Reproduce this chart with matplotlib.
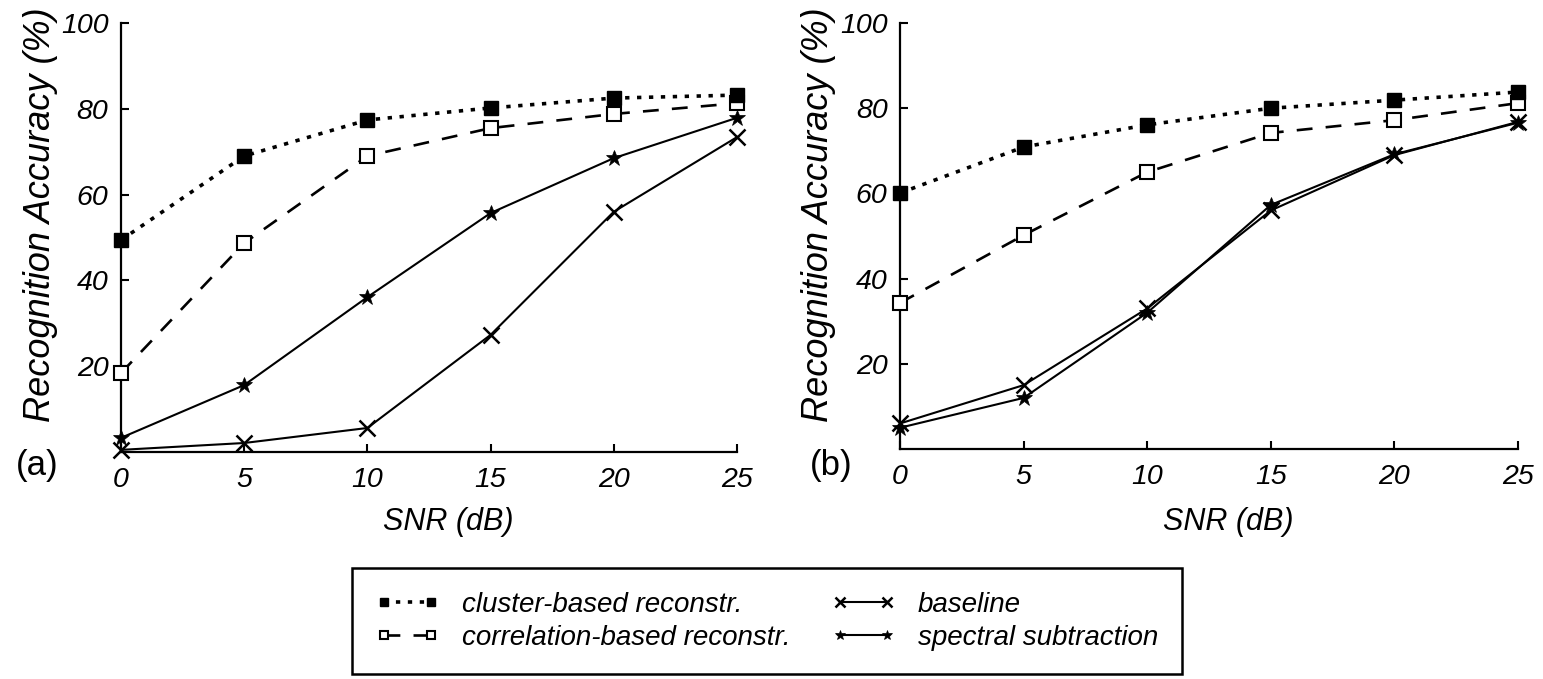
import matplotlib
matplotlib.use("Agg")
import matplotlib.pyplot as plt

plt.rcParams['font.family'] = ['Liberation Sans', 'DejaVu Sans']

snr = [0, 5, 10, 15, 20, 25]

# panel (a)
a_cluster = [49.4, 69.0, 77.4, 80.2, 82.5, 83.2]
a_correlation = [18.4, 48.7, 69.0, 75.5, 78.8, 81.3]
a_baseline = [0.5, 2.1, 5.6, 27.3, 56.0, 73.4]
a_spectral = [3.3, 15.6, 36.1, 55.7, 68.5, 77.9]

# panel (b)
b_cluster = [60.1, 70.9, 76.1, 80.0, 81.9, 83.8]
b_correlation = [34.3, 50.2, 65.0, 74.2, 77.2, 81.2]
b_baseline = [6.0, 15.0, 33.0, 56.0, 69.0, 76.8]
b_spectral = [5.0, 12.0, 32.0, 57.3, 69.2, 76.6]

labels = ['cluster-based reconstr.', 'correlation-based reconstr.',
          'baseline', 'spectral subtraction']
yticks = [20, 40, 60, 80, 100]

fig = plt.figure(figsize=(15.43, 6.79), dpi=100)
ax_a = fig.add_axes([0.0784, 0.3343, 0.3992, 0.6318])
ax_b = fig.add_axes([0.5833, 0.3387, 0.4005, 0.6274])


def draw(ax, cl, co, ba, sp):
    h1, = ax.plot(snr, cl, color='black', lw=2.6, ls=(0, (1.2, 2.1)),
                  marker='s', ms=10.5, mfc='black', mec='black', clip_on=False, zorder=4)
    h2, = ax.plot(snr, co, color='black', lw=1.9, ls=(0, (6, 5)),
                  marker='s', ms=9.5, mfc='white', mec='black', mew=1.5, clip_on=False, zorder=3)
    h3, = ax.plot(snr, ba, color='black', lw=1.5, ls='-',
                  marker='x', ms=11, mew=1.8, clip_on=False, zorder=2)
    h4, = ax.plot(snr, sp, color='black', lw=1.5, ls='-',
                  marker='*', ms=12, mfc='black', mec='black', mew=0.5, clip_on=False, zorder=2)
    ax.set_xlim(0, 25)
    ax.set_ylim(0, 100)
    ax.set_xticks(snr)
    ax.set_yticks(yticks)
    ax.spines['top'].set_visible(False)
    ax.spines['right'].set_visible(False)
    for s in ['left', 'bottom']:
        ax.spines[s].set_linewidth(1.6)
    ax.tick_params(direction='in', length=6, width=1.5, labelsize=20.5)
    ax.tick_params(axis='x', pad=11)
    ax.tick_params(axis='y', pad=9)
    for t in ax.get_xticklabels() + ax.get_yticklabels():
        t.set_fontstyle('italic')
    return [h1, h2, h3, h4]


handles = draw(ax_a, a_cluster, a_correlation, a_baseline, a_spectral)
draw(ax_b, b_cluster, b_correlation, b_baseline, b_spectral)

for x_ylab, x_xlab, x_let, let in [(41, 448, 37, '(a)'), (818, 1228, 831, '(b)')]:
    fig.text(x_ylab / 1543, 1 - 215 / 679, 'Recognition Accuracy (%)', rotation=90,
             ha='center', va='center', fontsize=26, fontstyle='italic')
    fig.text(x_xlab / 1543, 1 - 522 / 679, 'SNR (dB)', ha='center', va='center',
             fontsize=22, fontstyle='italic')
    fig.text(x_let / 1543, 1 - 466 / 679, let, ha='center', va='center', fontsize=25)

leg = fig.legend(handles, labels, ncol=2, loc='upper left',
                 bbox_to_anchor=(352 / 1543, 1 - 568 / 679),
                 prop={'size': 20, 'style': 'italic'}, markerscale=0.6, numpoints=2,
                 handlelength=2.3, handletextpad=0.8, columnspacing=1.5,
                 labelspacing=0.25, borderpad=0.85, borderaxespad=0,
                 fancybox=False, framealpha=1, edgecolor='black')
leg.get_frame().set_linewidth(1.8)

fig.savefig('out.png', dpi=100)
